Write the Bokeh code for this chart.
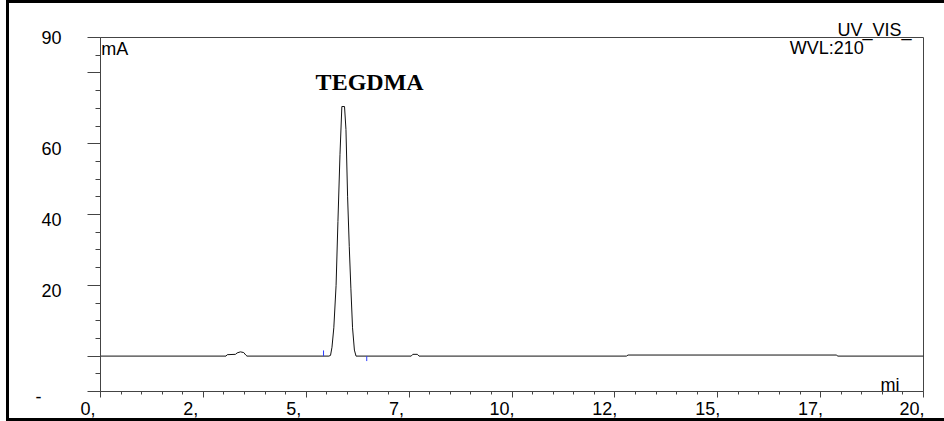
from bokeh.plotting import figure
from bokeh.models import FixedTicker, Label, Range1d, Title
from bokeh.embed import file_html
from bokeh.resources import INLINE

# Chromatogram trace: retention time (min) and UV signal (mA)
time_min = [0.0, 3.05, 3.08, 3.28, 3.32, 3.40, 3.48, 3.53, 3.56,
            5.55, 5.59, 5.625, 5.67, 5.725, 5.77, 5.82, 5.865, 5.93,
            5.965, 6.005, 6.045, 6.085, 6.125, 6.17, 6.21,
            7.55, 7.59, 7.70, 7.74,
            12.78, 12.82, 17.88, 17.92, 20.0]
signal_mA = [0.0, 0.0, 0.4, 0.5, 0.9, 1.2, 1.0, 0.3, 0.0,
             0.0, 0.2, 2.5, 8.0, 20.0, 38.0, 57.0, 70.5, 70.5,
             64.0, 45.0, 31.0, 19.0, 8.0, 1.7, 0.0,
             0.0, 0.5, 0.5, 0.0,
             0.0, 0.3, 0.3, 0.0, 0.0]

# Peak start / end delimiters
delim_time = [5.42, 6.47]
delim_mark = [1.6, -1.4]

# Axis ticks and their printed labels (trailing figure spaces keep the
# truncated labels sitting just left of their ticks)
PAD1 = "\u2007\u2007\u2008"
PAD2 = "\u2007\u2007"
x_ticks = [0, 2.5, 5, 7.5, 10, 12.5, 15, 17.5, 20]
x_tick_labels = ["0," + PAD1, "2," + PAD1, "5," + PAD1, "7," + PAD1,
                 "10," + PAD2, "12," + PAD2, "15," + PAD2, "17," + PAD2,
                 "20," + PAD2]
x_minor = [0.5 * i for i in range(41) if (0.5 * i) % 2.5 != 0]
y_ticks = [-10, 0, 20, 40, 60, 80, 90]
y_tick_labels = ["\n-\u2007\u2007", "", "\n20", "\n40", "\n60", "", "90"]
y_minor = [v for v in range(-10, 91, 5) if v not in y_ticks]

peak_name = "TEGDMA"
unit_y = "mA"
unit_x = "mi"
channel = "UV_VIS_"
wavelength = "WVL:210"

AXIS = "#444444"
FONT = "Liberation Sans"

p = figure(width=944, height=421, output_backend="svg", toolbar_location=None,
           x_range=Range1d(0, 20), y_range=Range1d(-10, 90),
           min_border_left=100, min_border_right=21, min_border_top=37,
           min_border_bottom=29, background_fill_color="white",
           border_fill_color=None)
# page frame: left, top and bottom rules around the chart
p.styles = {"box-shadow": "inset 6px 0 0 white, inset 9px 0 0 black, "
                          "inset 0 3px 0 black, inset 0 -3px 0 black"}
p.grid.visible = False
p.outline_line_color = AXIS
p.outline_line_width = 1

xa = p.xaxis[0]
xa.ticker = FixedTicker(ticks=x_ticks, minor_ticks=x_minor)
xa.major_label_overrides = {t: l for t, l in zip(x_ticks, x_tick_labels)}
xa.axis_line_color = AXIS
xa.major_tick_line_color = AXIS
xa.minor_tick_line_color = AXIS
xa.major_tick_out = 6
xa.major_tick_in = 0
xa.minor_tick_out = 3
xa.minor_tick_in = 0
xa.major_label_standoff = 1
xa.major_label_text_font = FONT
xa.major_label_text_font_size = "18px"
xa.major_label_text_color = "black"

ya = p.yaxis[0]
ya.ticker = FixedTicker(ticks=y_ticks, minor_ticks=y_minor)
ya.major_label_overrides = {t: l for t, l in zip(y_ticks, y_tick_labels)}
ya.axis_line_color = AXIS
ya.major_tick_line_color = AXIS
ya.minor_tick_line_color = AXIS
ya.major_tick_out = 13
ya.major_tick_in = 0
ya.minor_tick_out = 5
ya.minor_tick_in = 0
ya.major_label_standoff = 26
ya.major_label_text_font = FONT
ya.major_label_text_font_size = "18px"
ya.major_label_text_line_height = 0.55
ya.major_label_text_color = "black"

p.line(time_min, signal_mA, line_color="#111111", line_width=1)
p.segment(x0=delim_time, y0=[0, 0], x1=delim_time, y1=delim_mark,
          line_color="#2a3cff", line_width=1)

p.add_layout(Label(x=6.54, y=77.4, text=peak_name, text_align="center",
                   text_baseline="alphabetic", text_font="Liberation Serif",
                   text_font_style="bold", text_font_size="24px",
                   text_color="black"))
p.add_layout(Label(x=0.02, y=86.8, text=unit_y, text_baseline="alphabetic",
                   text_font=FONT, text_font_size="18px", text_color="black"))
p.add_layout(Label(x=18.955, y=-8.3, text=unit_x, text_baseline="alphabetic",
                   text_font=FONT, text_font_size="18px", text_color="black"))
p.add_layout(Label(x=18.55, y=87.1, text=wavelength, text_align="right",
                   text_baseline="alphabetic", text_font=FONT,
                   text_font_size="18px", text_color="black"))
p.add_layout(Title(text=channel, align="left", offset=737, standoff=-5,
                   text_font=FONT, text_font_size="18px",
                   text_font_style="normal", text_color="black"), "above")

open("out.html", "w").write(file_html(p, INLINE))
